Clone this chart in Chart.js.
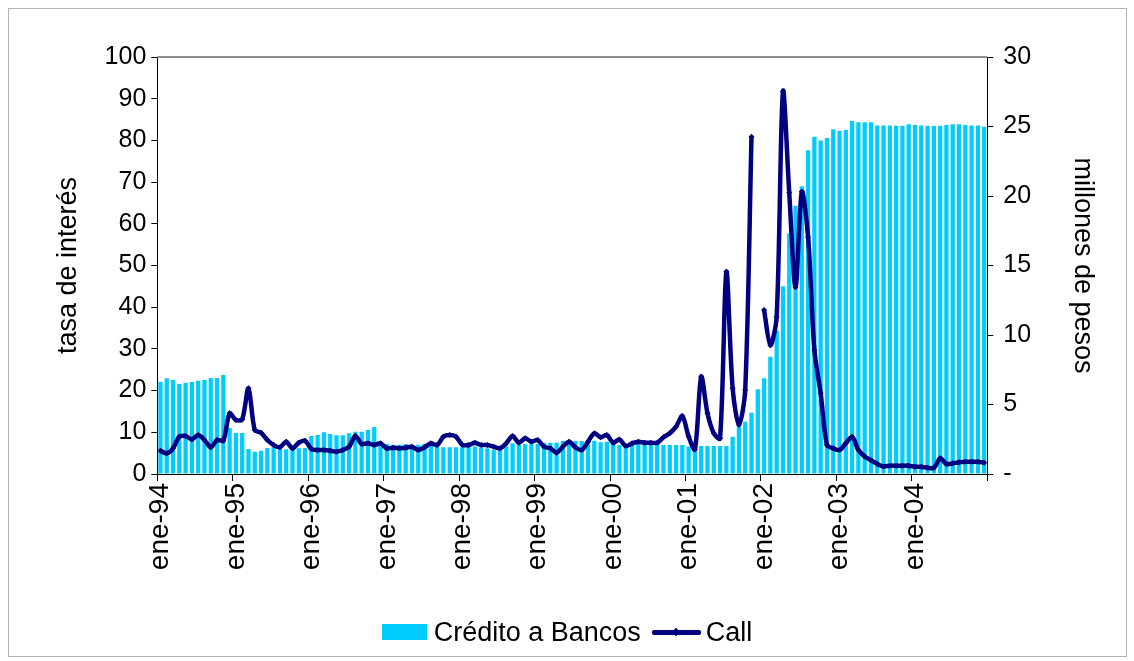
<!DOCTYPE html>
<html lang="es">
<head>
<meta charset="utf-8">
<title>Crédito a Bancos y tasa Call</title>
<script src="https://cdn.jsdelivr.net/npm/chart.js@4.4.1/dist/chart.umd.min.js"></script>
<style>
  html, body { margin: 0; padding: 0; background: #fff; }
  #wrap { position: relative; width: 1134px; height: 661px; }
  #frame { position: absolute; left: 8px; top: 8px; width: 1117px; height: 647px;
           border: 1px solid #b4b4b4; pointer-events: none; }
  #legend { position: absolute; left: 0; top: 614px; width: 1134px; height: 36px;
            display: flex; justify-content: center; align-items: center;
            font: 27px 'Liberation Sans', Arial, sans-serif; color: #000; }
  .sw-bar { width: 45px; height: 16px; background: #00ccff; margin-right: 7px; }
  .sw-line { position: relative; width: 49px; height: 5px; background: #000080;
             border-radius: 2px; margin: 0 5px 0 11px; }
  .sw-line::after { content: ''; position: absolute; left: 21px; top: -1px; width: 6px; height: 6px;
                    background: #000080; transform: rotate(45deg); }
</style>
</head>
<body>
<div id="wrap">
  <canvas id="chart" width="1134" height="661"></canvas>
  <div id="legend">
    <span class="sw-bar"></span><span>Crédito a Bancos</span>
    <span class="sw-line"></span><span>Call</span>
  </div>
  <div id="frame"></div>
</div>
<script>
// monthly series, ene-94 .. dic-04
const years = ['94', '95', '96', '97', '98', '99', '00', '01', '02', '03', '04'];
const months = ['ene', 'feb', 'mar', 'abr', 'may', 'jun', 'jul', 'ago', 'sep', 'oct', 'nov', 'dic'];
const labels = years.flatMap(y => months.map(m => m + '-' + y));

// Crédito a Bancos, millones de pesos (right axis)
const creditoBancos = [
  6.64, 6.88, 6.76, 6.47, 6.57, 6.62, 6.71, 6.76, 6.91, 6.91, 7.12, 3.31,
  2.95, 2.95, 1.80, 1.60, 1.68, 1.87, 1.92, 1.78, 1.78, 1.92, 1.85, 1.87,
  2.73, 2.81, 3.00, 2.88, 2.78, 2.78, 2.93, 3.04, 3.04, 3.17, 3.38, 2.20,
  2.15, 2.10, 2.10, 2.15, 2.10, 2.10, 2.15, 2.10, 2.00, 1.92, 1.92, 1.92,
  1.92, 1.97, 1.97, 1.89, 1.85, 1.73, 1.73, 1.97, 2.21, 2.09, 2.16, 2.21,
  2.16, 2.25, 2.25, 2.25, 2.37, 2.37, 2.37, 2.37, 2.37, 2.40, 2.28, 2.32,
  2.21, 2.09, 2.01, 2.25, 2.30, 2.30, 2.30, 2.30, 2.09, 2.09, 2.09, 2.09,
  1.97, 2.01, 2.01, 2.01, 2.01, 2.01, 2.01, 2.68, 3.40, 3.76, 4.41, 6.10,
  6.88, 8.44, 10.30, 13.50, 17.30, 19.30, 20.70, 23.30, 24.27, 24.00, 24.17, 24.80,
  24.70, 24.75, 25.40, 25.30, 25.30, 25.30, 25.08, 25.08, 25.08, 25.06, 25.06, 25.16,
  25.11, 25.08, 25.06, 25.04, 25.06, 25.11, 25.16, 25.16, 25.11, 25.08, 25.08, 24.99
];

// Call, tasa de interés % (left axis); dic-01 without quote
const tasaCall = [
  5.6, 4.95, 6.15, 8.95, 9.1, 8.3, 9.35, 8.15, 6.4, 8.15, 8.0, 14.55,
  12.95, 13.1, 20.55, 10.55, 9.9, 8.15, 6.95, 6.4, 7.75, 6.15, 7.5, 8.0,
  6.0, 5.75, 5.75, 5.6, 5.35, 5.75, 6.55, 9.1, 7.2, 7.35, 6.95, 7.35,
  6.15, 6.3, 6.15, 6.3, 6.55, 5.75, 6.4, 7.35, 6.95, 8.95, 9.35, 8.95,
  7.0, 6.95, 7.5, 6.95, 6.95, 6.55, 6.15, 7.35, 9.1, 7.5, 8.55, 7.75,
  8.15, 6.55, 6.15, 5.1, 6.55, 7.75, 6.4, 5.75, 7.75, 9.75, 8.8, 9.35,
  7.5, 8.3, 6.7, 7.35, 7.75, 7.5, 7.5, 7.5, 8.8, 9.75, 11.35, 13.9,
  9.0, 5.9, 23.35, 14.55, 9.75, 8.55, 48.5, 20.55, 11.75, 20.15, 80.9, null,
  39.3, 30.9, 37.7, 91.7, 67.5, 44.8, 67.7, 56.8, 29.7, 19.35, 6.95, 6.15,
  5.75, 7.35, 8.95, 5.75, 4.2, 3.3, 2.4, 1.8, 2.0, 2.0, 2.0, 2.0,
  1.75, 1.75, 1.5, 1.5, 3.75, 2.4, 2.55, 2.8, 2.95, 2.95, 2.95, 2.7
];

Chart.defaults.font.family = "'Liberation Sans', Arial, sans-serif";
Chart.defaults.font.size = 25;
Chart.defaults.color = '#000';

// grey top edge of the plot area
const plotTop = {
  id: 'plotTop',
  beforeDatasetsDraw(chart) {
    const { ctx, chartArea } = chart;
    ctx.save();
    ctx.strokeStyle = '#8c8c8c';
    ctx.lineWidth = 2;
    ctx.beginPath();
    ctx.moveTo(chartArea.left, chartArea.top);
    ctx.lineTo(chartArea.right, chartArea.top);
    ctx.stroke();
    ctx.restore();
  }
};

new Chart(document.getElementById('chart'), {
  data: {
    labels: labels,
    datasets: [
      {
        type: 'bar',
        label: 'Crédito a Bancos',
        data: creditoBancos,
        yAxisID: 'y1',
        backgroundColor: '#00ccff',
        barPercentage: 0.68,
        categoryPercentage: 1,
        order: 2
      },
      {
        type: 'line',
        label: 'Call',
        data: tasaCall,
        yAxisID: 'y',
        borderColor: '#000080',
        backgroundColor: '#000080',
        borderWidth: 4.5,
        pointStyle: 'rectRot',
        pointRadius: 3,
        pointBorderWidth: 0,
        tension: 0.3,
        spanGaps: false,
        order: 1
      }
    ]
  },
  options: {
    responsive: false,
    animation: false,
    layout: { padding: { top: 57, bottom: 57, left: 0, right: 0 } },
    plugins: { legend: { display: false }, tooltip: { enabled: false } },
    scales: {
      x: {
        offset: true,
        grid: {
          offset: true,
          drawOnChartArea: false,
          tickLength: 7,
          color: c => (c.index === undefined || c.index % 12 === 0) ? '#000' : 'rgba(0,0,0,0)'
        },
        border: { color: '#000', width: 1 },
        ticks: {
          autoSkip: false,
          maxRotation: 90,
          minRotation: 90,
          padding: 2,
          font: { size: 28 },
          callback: (v, i) => (i % 12 === 0 ? labels[i] : '')
        },
        afterFit: s => { s.height = 130; }
      },
      y: {
        position: 'left',
        min: 0,
        max: 100,
        ticks: { stepSize: 10, padding: 5 },
        grid: { drawOnChartArea: false, tickLength: 6, color: '#000' },
        border: { color: '#000', width: 1 },
        title: { display: true, text: 'tasa de interés', font: { size: 27 }, padding: { top: 52 } },
        afterFit: s => { s.width = 157.3; }
      },
      y1: {
        position: 'right',
        min: 0,
        max: 30,
        ticks: { stepSize: 5, padding: 10, callback: v => (v === 0 ? '-' : v) },
        grid: { drawOnChartArea: false, tickLength: 6, color: '#000' },
        border: { color: '#000', width: 1 },
        title: { display: true, text: 'millones de pesos', font: { size: 27 }, padding: { top: 35 } },
        afterFit: s => { s.width = 1134 - 987.3; }
      }
    }
  },
  plugins: [plotTop]
});
</script>
</body>
</html>
